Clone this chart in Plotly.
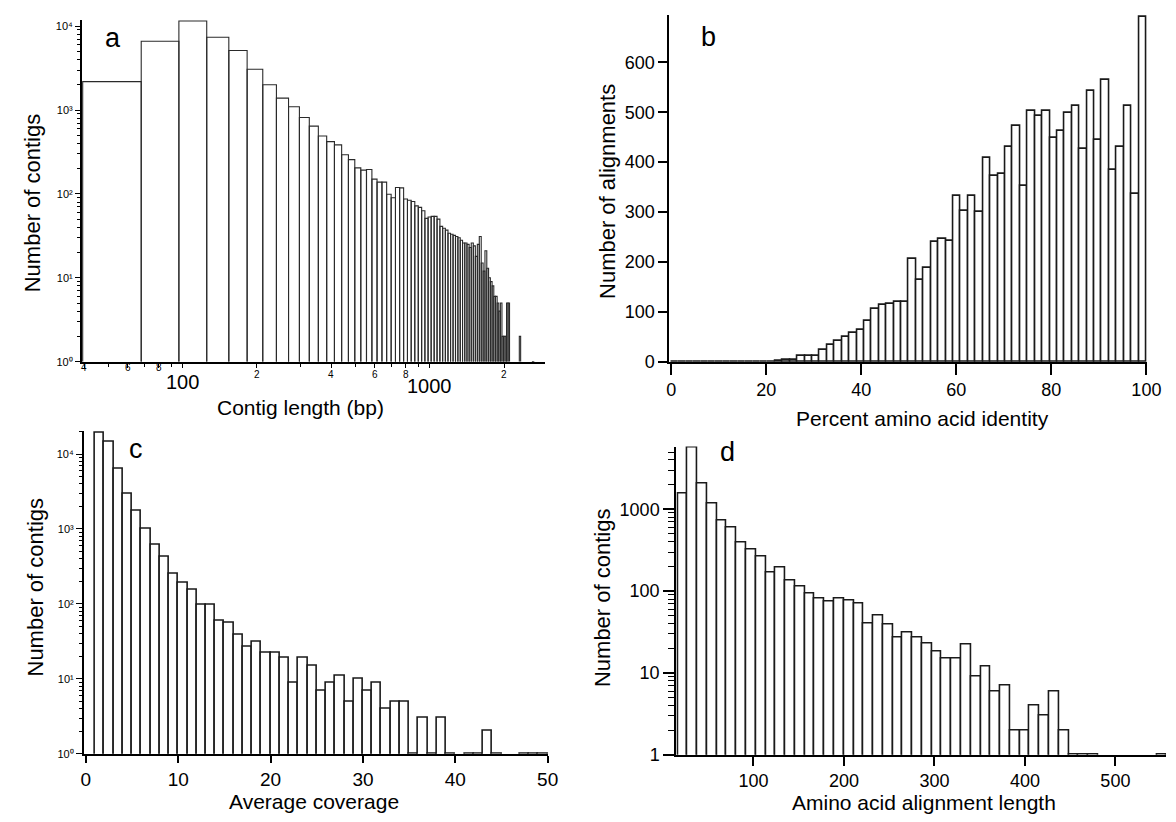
import math
import plotly.graph_objects as go

W, H = 1176, 822
FONT = "Liberation Sans, Arial, Helvetica, sans-serif"

# ---------------- data ----------------
# Panel a: contig length histogram (linear bins of fixed width, plotted on log x)
a_bin_start = 39.5
a_bin_width = 28.6
a_counts = [2180, 6600, 11500, 7360, 5120, 3060, 2000, 1385, 1095, 815,
            643, 490, 420, 384, 293, 256, 204, 192, 195, 150,
            138, 138, 99, 90, 119, 118, 87, 84, 81, 72,
            69, 63, 51, 53, 54, 54, 50, 41, 39, 37,
            34, 33, 32, 31, 30, 28, 26, 26, 25, 23,
            26, 24, 18, 25, 31, 15, 12, 21, 13, 10,
            9, 8, 6, 6, 5, 4, 5, 2, 2, 2,
            5, 5, 0, 0, 0, 0, 0, 0, 0, 2,
            0, 0, 0, 0, 0, 0, 0, 0, 0, 1, 1]

# Panel b: percent amino acid identity (64 bins over 0-100)
b_bin_start = 0.0
b_bin_width = 100 / 64
b_counts = [0, 0, 0, 0, 0, 0, 0, 0, 0, 0,
            0, 0, 0, 0, 2, 4, 4, 12, 12, 12,
            23, 34, 41, 49, 58, 64, 81, 106, 114, 116,
            120, 120, 206, 163, 188, 239, 246, 243, 332, 303,
            332, 301, 408, 372, 376, 431, 473, 352, 502, 492,
            502, 448, 462, 499, 512, 426, 542, 444, 565, 384,
            431, 512, 336, 692]

# Panel c: average coverage (unit bins starting at 1)
c_bin_start = 1
c_bin_width = 1
c_counts = [19500, 14600, 6360, 2980, 1740, 1010, 608, 422, 252, 193,
            155, 98, 98, 60, 56, 39, 27, 31, 22, 22,
            19, 9, 19, 15, 7, 9, 11, 5, 10, 7,
            9, 4, 5, 5, 1, 3, 1, 3, 1, 0,
            1, 1, 2, 1, 0, 0, 1, 1, 1]

# Panel d: amino acid alignment length
d_bin_start = 16.5
d_bin_width = 10.8
d_counts = [1540, 5640, 2040, 1170, 720, 595, 395, 320, 266, 168,
            196, 136, 112, 92, 82, 74, 82, 76, 70, 40,
            50, 39, 27, 31, 27, 23, 18, 15, 15, 22,
            9, 12, 6, 7, 2, 2, 4, 3, 6, 2,
            1, 1, 1, 0, 0, 0, 0, 0, 0, 1]

# tick labels
a_x_major = [40, 60, 80, 100, 200, 400, 600, 800, 1000, 2000]
a_x_minor = [50, 70, 90, 300, 500, 700, 900]
a_x_small_vals = [40, 60, 80, 200, 400, 600, 800, 2000]
a_x_small_text = ["4", "6", "8", "2", "4", "6", "8", "2"]
a_x_big_vals = [100, 1000]
a_x_big_text = ["100", "1000"]
pow_vals = [1, 10, 100, 1000, 10000]
pow_text = ["10\u2070", "10\u00b9", "10\u00b2", "10\u00b3", "10\u2074"]
b_x_ticks = [0, 20, 40, 60, 80, 100]
b_y_ticks = [0, 100, 200, 300, 400, 500, 600]
c_x_ticks = [0, 10, 20, 30, 40, 50]
d_x_ticks = [100, 200, 300, 400, 500]
d_y_vals = [1, 10, 100, 1000]
d_y_text = ["1", "10", "100", "1000"]

# ---------------- helpers ----------------
def fx(px):
    return px / W

def fy(py):
    return 1 - py / H

def minor_log(maxdec):
    return [m * 10 ** d for d in range(0, maxdec + 1) for m in range(2, 10)]

LINE = "#1a1a1a"

fig = go.Figure()

# Panel a: bar outlines on log-log axes
xs, ys = [], []
for i, c in enumerate(a_counts):
    if c <= 0:
        continue
    x0 = a_bin_start + i * a_bin_width
    x1 = x0 + a_bin_width
    xs += [x0, x0, x1, x1, None]
    ys += [1, c, c, 1, None]
fig.add_trace(go.Scatter(x=xs, y=ys, mode="lines", line=dict(color="#2a2a2a", width=1.1),
                         xaxis="x", yaxis="y", showlegend=False, hoverinfo="skip"))

def centers(start, width, n):
    return [start + (i + 0.5) * width for i in range(n)]

bar_style = dict(color="white", line=dict(color=LINE, width=1.6))

fig.add_trace(go.Bar(x=centers(b_bin_start, b_bin_width, len(b_counts)), y=b_counts,
                     width=b_bin_width, marker=bar_style, xaxis="x2", yaxis="y2",
                     showlegend=False))

c_y = [v if v > 0 else None for v in c_counts]
fig.add_trace(go.Bar(x=centers(c_bin_start, c_bin_width, len(c_counts)), y=c_y,
                     width=c_bin_width, marker=bar_style, xaxis="x3", yaxis="y3",
                     showlegend=False))

d_y = [v if v > 0 else None for v in d_counts]
fig.add_trace(go.Bar(x=centers(d_bin_start, d_bin_width, len(d_counts)), y=d_y,
                     width=d_bin_width, marker=bar_style, xaxis="x4", yaxis="y4",
                     showlegend=False))

axis_common = dict(showline=True, linecolor="black", linewidth=2, showgrid=False,
                   zeroline=False, ticks="outside", tickcolor="black",
                   tickfont=dict(family=FONT, size=18, color="black"))

tick_small = dict(family=FONT, size=11, color="black")

fig.update_layout(
    width=W, height=H, autosize=False,
    margin=dict(l=0, r=0, t=0, b=0),
    paper_bgcolor="white", plot_bgcolor="white",
    bargap=0, barmode="overlay",
    font=dict(family=FONT, color="black"),
    # panel a
    xaxis=dict(axis_common, type="log", domain=[fx(72), fx(542)],
               range=[1.5936, 3.466], anchor="y",
               tickmode="array", tickvals=a_x_major, showticklabels=False,
               ticklen=4, tickwidth=1,
               minor=dict(tickmode="array", tickvals=a_x_minor, ticks="outside",
                          ticklen=3, tickcolor="black", tickwidth=1)),
    yaxis=dict(axis_common, type="log", domain=[fy(358), fy(12)],
               range=[0, 4.075], anchor="x",
               tickmode="array", tickvals=pow_vals, ticktext=pow_text,
               ticklen=5, tickwidth=1.2, tickfont=tick_small,
               minor=dict(tickmode="array", tickvals=minor_log(4), ticks="outside",
                          ticklen=3, tickcolor="black", tickwidth=0.8)),
    # panel b
    xaxis2=dict(axis_common, domain=[fx(668), fx(1153)], range=[-0.4, 100.2],
                anchor="y2", tickmode="array", tickvals=b_x_ticks,
                ticklen=11, tickwidth=2),
    yaxis2=dict(axis_common, domain=[fy(358), fy(7)], range=[0, 695],
                anchor="x2", tickmode="array", tickvals=b_y_ticks,
                ticklen=9, tickwidth=2),
    # panel c
    xaxis3=dict(axis_common, domain=[fx(74), fx(545)], range=[-0.21, 50.05],
                anchor="y3", tickmode="array", tickvals=c_x_ticks,
                ticklen=7, tickwidth=2, tickfont=dict(family=FONT, size=19, color="black")),
    yaxis3=dict(axis_common, type="log", domain=[fy(755), fy(428)],
                range=[0, 4.31], anchor="x3",
                tickmode="array", tickvals=pow_vals, ticktext=pow_text,
                ticklen=6, tickwidth=1.2, tickfont=tick_small,
                minor=dict(tickmode="array", tickvals=minor_log(4), ticks="outside",
                           ticklen=3, tickcolor="black", tickwidth=0.8)),
    # panel d
    xaxis4=dict(axis_common, domain=[fx(675), fx(1172)], range=[14.7, 556],
                anchor="y4", tickmode="array", tickvals=d_x_ticks,
                ticklen=9, tickwidth=2),
    yaxis4=dict(axis_common, type="log", domain=[fy(756), fy(444)],
                range=[0, 3.765], anchor="x4",
                tickmode="array", tickvals=d_y_vals, ticktext=d_y_text,
                ticklen=11, tickwidth=2,
                minor=dict(tickmode="array", tickvals=minor_log(3), ticks="outside",
                           ticklen=6, tickcolor="black", tickwidth=1.2)),
)

ann = []
# panel a x tick labels (small mantissas and big decade labels)
small_y = [364, 364, 364, 371, 371, 371, 371, 371]
for v, t, py in zip(a_x_small_vals, a_x_small_text, small_y):
    ann.append(dict(x=math.log10(v), xref="x", y=fy(py), yref="paper", text=t,
                    showarrow=False, font=dict(family=FONT, size=10, color="black"),
                    xanchor="center", yanchor="middle"))
for v, t, py in zip(a_x_big_vals, a_x_big_text, [379, 383]):
    ann.append(dict(x=math.log10(v), xref="x", y=fy(py), yref="paper", text=t,
                    showarrow=False, font=dict(family=FONT, size=20, color="black"),
                    xanchor="center", yanchor="middle"))

titles = [
    ("Contig length (bp)", 294, 404, 0, 21),
    ("Percent amino acid identity", 925, 416, 0, 21),
    ("Average coverage", 307, 803, 0, 21),
    ("Amino acid alignment length", 926, 804, 0, 21),
    ("Number of contigs", 22, 197, -90, 22),
    ("Number of alignments", 605, 186, -90, 22),
    ("Number of contigs", 25, 586, -90, 22),
    ("Number of contigs", 600, 597, -90, 22),
]
for t, px, py, ang, fs in titles:
    ann.append(dict(x=fx(px), y=fy(py), xref="paper", yref="paper", text=t,
                    showarrow=False, textangle=ang,
                    font=dict(family=FONT, size=fs, color="black"),
                    xanchor="center", yanchor="middle"))

letters = [("a", 103, 30), ("b", 708, 29), ("c", 127, 446), ("d", 727, 449)]
for t, px, py in letters:
    ann.append(dict(x=fx(px), y=fy(py), xref="paper", yref="paper", text=t,
                    showarrow=False, font=dict(family=FONT, size=27, color="black"),
                    xanchor="center", yanchor="middle"))

fig.update_layout(annotations=ann)
fig.write_html("out.html")
